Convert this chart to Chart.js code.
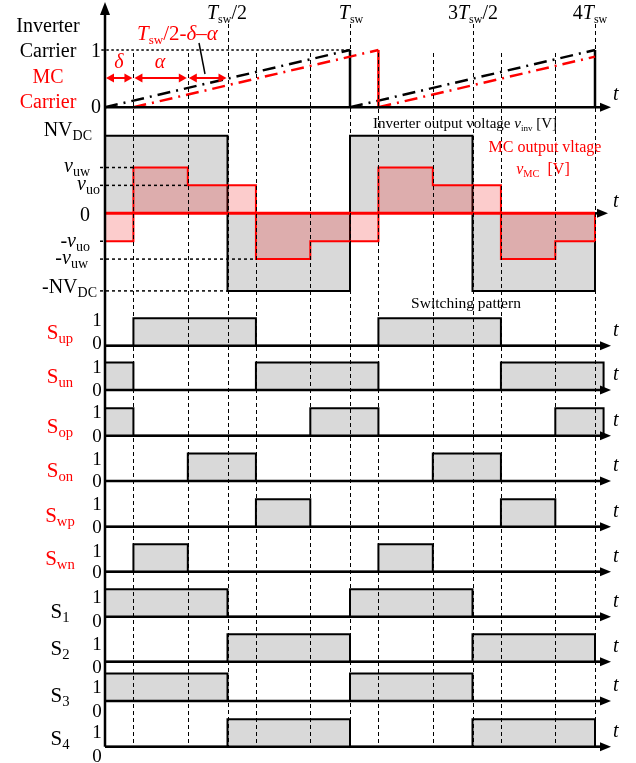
<!DOCTYPE html>
<html>
<head>
<meta charset="utf-8">
<script src="https://cdn.jsdelivr.net/npm/chart.js@4.4.1/dist/chart.umd.min.js"></script>
<style>
  html, body { margin: 0; padding: 0; background: #fff; overflow: hidden; }
  canvas { display: block; }
</style>
</head>
<body>
<canvas id="chart" width="636" height="763" style="width:636px;height:763px"></canvas>
<script>
// time in units of Tsw; switching instants
const edges = [0, 0.116, 0.338, 0.5, 0.616, 0.838, 1, 1.116, 1.338, 1.5, 1.616, 1.838, 2, 2.035];

// carriers (0..1)
const invCarrier = [[0, 0], [1, 1], [1, 0], [2, 1], [2, 0]];
const mcCarrier = [[0.116, 0], [1.116, 1], [1.116, 0], [2, 0.884]];

// output voltages, one level per interval (NV_DC = 1)
const vInv = [1, 1, 1, -1, -1, -1, 1, 1, 1, -1, -1, -1];
const vMc = [-0.36, 0.59, 0.36, 0.36, -0.59, -0.36, -0.36, 0.59, 0.36, 0.36, -0.59, -0.36];

// switching patterns, one level per interval
const sUp = [0, 1, 1, 1, 0, 0, 0, 1, 1, 1, 0, 0, 0];
const sUn = [1, 0, 0, 0, 1, 1, 1, 0, 0, 0, 1, 1, 1];
const sOp = [1, 0, 0, 0, 0, 1, 1, 0, 0, 0, 0, 1, 1];
const sOn = [0, 0, 1, 1, 0, 0, 0, 0, 1, 1, 0, 0, 0];
const sWp = [0, 0, 0, 0, 1, 0, 0, 0, 0, 0, 1, 0, 0];
const sWn = [0, 1, 0, 0, 0, 0, 0, 1, 0, 0, 0, 0, 0];
const s1 = [1, 1, 1, 0, 0, 0, 1, 1, 1, 0, 0, 0, 0];
const s2 = [0, 0, 0, 1, 1, 1, 0, 0, 0, 1, 1, 1, 0];
const s3 = [1, 1, 1, 0, 0, 0, 1, 1, 1, 0, 0, 0, 0];
const s4 = [0, 0, 0, 1, 1, 1, 0, 0, 0, 1, 1, 1, 0];

const switchLevels = [sUp, sUn, sOp, sOn, sWp, sWn, s1, s2, s3, s4];
const switchSubs = ['up', 'un', 'op', 'on', 'wp', 'wn', '1', '2', '3', '4'];

// ---- layout (pixels) ----
const W = 636, H = 763;
const X0 = 105, TSW = 245;
const carZero = 107.3, carUnit = 57.3;
const vZero = 213.3, vUnit = 77.6;
const swZero = [345.7, 390, 435.7, 481, 526.7, 571.7, 616.7, 661.7, 701, 746.7];
const swUnit = 27.5;
// [name baseline, "1" baseline, "0" baseline]
const swText = [[339, 326, 349], [383, 373, 396], [432.7, 418, 441.7], [476.7, 465, 487], [521.7, 510, 533],
  [565, 557, 578], [618, 603, 627], [655, 650, 673], [701.7, 693, 717], [745, 738, 762]];

const RED = '#ff0000';
const GRAY = '#d9d9d9';
const SERIF = '"Liberation Serif", "Times New Roman", serif';

function band(zero, unit) {
  return { type: 'linear', display: false, min: -(H - zero) / unit, max: zero / unit };
}

// each level holds from edges[i] to edges[i+1]
function steps(levels) {
  const pts = levels.map((v, i) => ({ x: edges[i], y: v }));
  const end = edges[levels.length];
  pts.push({ x: end, y: levels[levels.length - 1] });
  pts.push({ x: end, y: 0 });
  return pts;
}

const pts = arr => arr.map(([x, y]) => ({ x, y }));

const scales = {
  x: { type: 'linear', display: false, min: -X0 / TSW, max: (W - X0) / TSW },
  yCar: band(carZero, carUnit),
  yV: band(vZero, vUnit)
};
swZero.forEach((z, i) => { scales['yS' + i] = band(z, swUnit); });

const STEP = 'before';
const DASHDOT = [13, 6, 2, 6];
// carrier resets are drawn solid
const resetSolid = { borderDash: c => (c.p0.parsed.x === c.p1.parsed.x ? [] : DASHDOT) };

const datasets = [
  { data: [{ x: 0, y: 0 }, { x: 2, y: 0 }], yAxisID: 'yV', borderColor: RED, borderWidth: 3 },
  { data: steps(vMc), yAxisID: 'yV', stepped: STEP, borderColor: RED, borderWidth: 2,
    fill: 'origin', backgroundColor: 'rgba(240,0,0,0.2)' },
  { data: steps(vInv), yAxisID: 'yV', stepped: STEP, borderColor: '#000', borderWidth: 2,
    fill: 'origin', backgroundColor: GRAY },
  { data: pts(mcCarrier), yAxisID: 'yCar', borderColor: RED, borderWidth: 2.5, borderDash: DASHDOT, segment: resetSolid },
  { data: pts(invCarrier), yAxisID: 'yCar', borderColor: '#000', borderWidth: 2.5, borderDash: DASHDOT, segment: resetSolid },
  { data: [{ x: -0.015, y: 1 }, { x: 1, y: 1 }], yAxisID: 'yCar', borderColor: '#000', borderWidth: 1.5, borderDash: [2.5, 2.5] }
];
switchLevels.forEach((lv, i) => {
  datasets.push({ data: steps(lv), yAxisID: 'yS' + i, stepped: STEP, borderColor: '#000', borderWidth: 2,
    fill: 'origin', backgroundColor: GRAY });
});
datasets.forEach(d => { d.pointRadius = 0; d.tension = 0; });

function rich(ctx, x, y, parts, o = {}) {
  const size = o.size || 20, sub = o.sub || 0.7;
  const segs = parts.map(p => {
    const [txt, f = ''] = Array.isArray(p) ? p : [p];
    const s = f.includes('s');
    const font = (f.includes('i') ? 'italic ' : '') + (s ? size * sub : size) + 'px ' + SERIF;
    ctx.font = font;
    return { txt, font, w: ctx.measureText(txt).width, dy: s ? size * 0.2 : 0 };
  });
  const total = segs.reduce((a, s) => a + s.w, 0);
  let cx = o.align === 'center' ? x - total / 2 : o.align === 'right' ? x - total : x;
  ctx.fillStyle = o.color || '#000';
  ctx.textAlign = 'left';
  ctx.textBaseline = 'alphabetic';
  segs.forEach(s => { ctx.font = s.font; ctx.fillText(s.txt, cx, y + s.dy); cx += s.w; });
}

function head(ctx, x, y, dx, dy, len, half) {
  // filled arrow head with tip at (x, y) pointing along (dx, dy)
  ctx.beginPath();
  ctx.moveTo(x, y);
  ctx.lineTo(x - dx * len - dy * half, y - dy * len - dx * half);
  ctx.lineTo(x - dx * len + dy * half, y - dy * len + dx * half);
  ctx.closePath();
  ctx.fill();
}

const deco = {
  id: 'deco',
  afterDatasetsDraw(chart) {
    const ctx = chart.ctx;
    const px = t => chart.scales.x.getPixelForValue(t);
    const py = (id, v) => chart.scales[id].getPixelForValue(v);
    const bottom = py('yS9', 0);
    const left = px(0);
    const tipX = 611;
    ctx.save();

    // vertical dashed guides
    ctx.strokeStyle = '#000';
    ctx.lineWidth = 1;
    ctx.setLineDash([4, 3]);
    edges.slice(1, 13).forEach(t => {
      const labelled = [0.5, 1, 1.5, 2].includes(t);
      const x = Math.round(px(t)) + 0.5;
      ctx.beginPath();
      ctx.moveTo(x, labelled ? 24 : py('yCar', 1) + 3);
      ctx.lineTo(x, bottom);
      ctx.stroke();
    });

    // voltage level guides
    ctx.lineWidth = 1.5;
    ctx.setLineDash([3, 3]);
    [[0.59, 0.116], [0.36, 0.338], [-0.36, 0], [-0.59, 0.616], [-1, 0.5]].forEach(([v, t]) => {
      const y = py('yV', v);
      ctx.beginPath();
      ctx.moveTo(left - 5, y);
      ctx.lineTo(px(t), y);
      ctx.stroke();
    });
    ctx.setLineDash([]);

    // axes
    ctx.fillStyle = '#000';
    ctx.lineWidth = 2.5;
    ctx.beginPath();
    ctx.moveTo(left, 10);
    ctx.lineTo(left, bottom);
    ctx.stroke();
    head(ctx, left, 2, 0, -1, 13, 5);
    const hAxes = [py('yCar', 0)].concat(swZero.map((z, i) => py('yS' + i, 0)));
    hAxes.forEach(y => {
      ctx.beginPath();
      ctx.moveTo(left, y);
      ctx.lineTo(tipX - 6, y);
      ctx.stroke();
      head(ctx, tipX, y, 1, 0, 11, 4.5);
    });
    const vy = py('yV', 0);
    ctx.beginPath();
    ctx.moveTo(px(2), vy);
    ctx.lineTo(tipX - 8, vy);
    ctx.stroke();
    head(ctx, tipX - 3, vy, 1, 0, 11, 4.5);

    // t labels
    hAxes.forEach((y, i) => rich(ctx, 613, y - (i === 0 ? 7 : 10), [['t', 'i']]));
    rich(ctx, 613, vy - 6, [['t', 'i']]);

    // red interval arrows
    ctx.strokeStyle = RED;
    ctx.fillStyle = RED;
    ctx.lineWidth = 2;
    const ay = 78;
    [[0, 0.116], [0.116, 0.338], [0.338, 0.5]].forEach(([a, b]) => {
      const x1 = px(a) + 1, x2 = px(b) - 1;
      ctx.beginPath();
      ctx.moveTo(x1 + 6, ay);
      ctx.lineTo(x2 - 6, ay);
      ctx.stroke();
      head(ctx, x1, ay, -1, 0, 8, 4.5);
      head(ctx, x2, ay, 1, 0, 8, 4.5);
    });
    ctx.strokeStyle = '#000';
    ctx.lineWidth = 1.5;
    ctx.beginPath();
    ctx.moveTo(199, 43);
    ctx.lineTo(205, 74);
    ctx.stroke();

    // top labels
    const ts = { align: 'center', sub: 0.6 };
    rich(ctx, 227, 19, [['T', 'i'], ['sw', 's'], '/2'], ts);
    rich(ctx, 351, 19, [['T', 'i'], ['sw', 's']], ts);
    rich(ctx, 473, 19, ['3', ['T', 'i'], ['sw', 's'], '/2'], ts);
    rich(ctx, 590, 19, ['4', ['T', 'i'], ['sw', 's']], ts);
    rich(ctx, 137, 40, [['T', 'i'], ['sw', 's'], '/2-', ['δ', 'i'], '–', ['α', 'i']], { color: RED, size: 21, sub: 0.62 });
    rich(ctx, 119, 68, [['δ', 'i']], { color: RED, align: 'center' });
    rich(ctx, 160, 68, [['α', 'i']], { color: RED, align: 'center' });

    // carrier labels
    const c = { align: 'center' };
    rich(ctx, 48, 32, ['Inverter'], c);
    rich(ctx, 48, 57, ['Carrier'], c);
    rich(ctx, 48, 83, ['MC'], { align: 'center', color: RED });
    rich(ctx, 48, 108, ['Carrier'], { align: 'center', color: RED });
    rich(ctx, 101, 57, ['1'], { align: 'right' });
    rich(ctx, 101, 113, ['0'], { align: 'right' });

    // voltage labels
    const r = { align: 'right' };
    rich(ctx, 92, 136, ['NV', ['DC', 's']], r);
    rich(ctx, 90, 172, [['v', 'i'], ['uw', 's']], r);
    rich(ctx, 100, 190, [['v', 'i'], ['uo', 's']], r);
    rich(ctx, 90, 221, ['0'], r);
    rich(ctx, 90, 247, ['-', ['v', 'i'], ['uo', 's']], r);
    rich(ctx, 88, 264, ['-', ['v', 'i'], ['uw', 's']], r);
    rich(ctx, 97, 293, ['-NV', ['DC', 's']], r);
    rich(ctx, 465, 128, ['Inverter output voltage ', ['v', 'i'], ['inv', 's'], ' [V]'], { align: 'center', size: 15, sub: 0.6 });
    rich(ctx, 545, 152, ['MC output vltage'], { align: 'center', size: 16, color: RED });
    rich(ctx, 543, 174, [['v', 'i'], ['MC', 's'], '  [V]'], { align: 'center', size: 16, color: RED, sub: 0.65 });
    rich(ctx, 466, 308, ['Switching pattern'], { align: 'center', size: 15.5 });

    // switching labels
    switchSubs.forEach((s, i) => {
      const [yn, y1, y0] = swText[i];
      rich(ctx, 60, yn, ['S', [s, 's']], { align: 'center', size: 21, color: i < 6 ? RED : '#000' });
      rich(ctx, 97, y1, ['1'], { align: 'center', size: 19 });
      rich(ctx, 97, y0, ['0'], { align: 'center', size: 19 });
    });
    ctx.restore();
  }
};

new Chart(document.getElementById('chart'), {
  type: 'line',
  data: { datasets },
  options: {
    responsive: false,
    animation: false,
    layout: { padding: 0 },
    scales,
    plugins: { legend: { display: false }, tooltip: { enabled: false } }
  },
  plugins: [deco]
});
</script>
</body>
</html>
